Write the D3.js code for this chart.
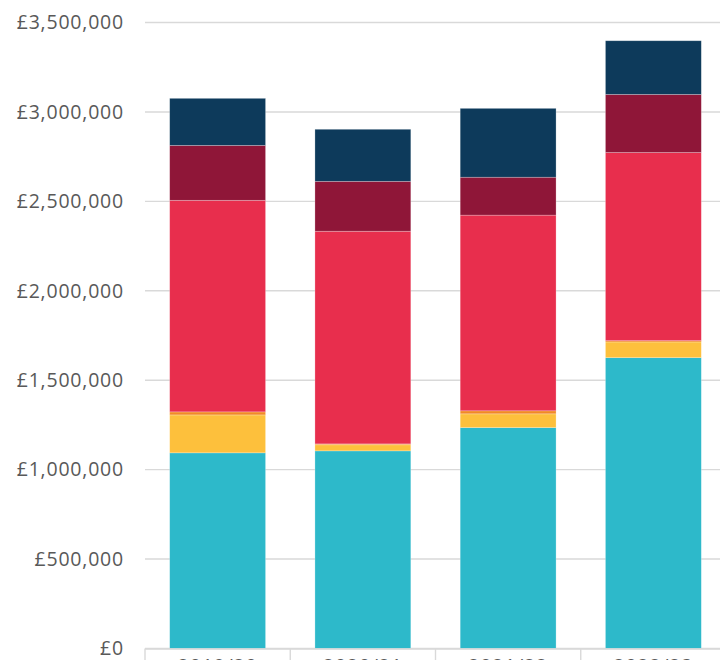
<!DOCTYPE html>
<html>
<head>
<meta charset="utf-8">
<script src="https://cdn.jsdelivr.net/npm/d3@7"></script>
<style>
  body { margin: 0; background: #fff; }
  svg { display: block; font-family: "Open Sans", "DejaVu Sans", sans-serif; }
</style>
</head>
<body>
<svg width="720" height="660"></svg>
<script>
// data
var years = ["2019/20", "2020/21", "2021/22", "2022/23"];
var keys = ["teal", "yellow", "orange", "red", "crimson", "navy"];
var teal    = [1094000, 1105000, 1235000, 1626000];
var yellow  = [ 212000,   34000,   77000,   88000];
var orange  = [  17000,    5000,   17000,    7000];
var red     = [1183000, 1189000, 1094000, 1052000];
var crimson = [ 307000,  279000,  212000,  325000];
var navy    = [ 263000,  291000,  385000,  300000];
var yTicks  = [0, 500000, 1000000, 1500000, 2000000, 2500000, 3000000, 3500000];

var colors = {
  teal: "#2db9ca",
  yellow: "#fdc03c",
  orange: "#f28a25",
  red: "#e82e4d",
  crimson: "#8f1638",
  navy: "#0d3a5b"
};

var series = { teal: teal, yellow: yellow, orange: orange, red: red, crimson: crimson, navy: navy };
var rows = years.map(function(yr, i) {
  var r = { year: yr };
  keys.forEach(function(k) { r[k] = series[k][i]; });
  return r;
});

var svg = d3.select("svg");
var plotLeft = 145, plotRight = 726, plotTop = 22.5, plotBottom = 648.5;

var x = d3.scaleBand()
  .domain(years)
  .range([plotLeft, plotRight])
  .paddingInner(0.34)
  .paddingOuter(0.17);

var y = d3.scaleLinear()
  .domain([0, 3500000])
  .range([plotBottom, plotTop]);

// gridlines
svg.append("g")
  .selectAll("line")
  .data(yTicks)
  .enter()
  .append("line")
   .attr("x1", plotLeft)
   .attr("x2", 720)
   .attr("y1", d => y(d))
   .attr("y2", d => y(d))
   .attr("stroke", "#d9d9d9")
   .attr("stroke-width", 1.4);

// y labels
var fmt = d3.format(",");
svg.append("g")
  .selectAll("text")
  .data(yTicks)
  .enter()
  .append("text")
   .attr("x", 124)
   .attr("y", d => y(d))
   .attr("dy", "0.35em")
   .attr("text-anchor", "end")
   .attr("fill", "#595959")
   .style("font-size", "19.5px")
   .style("letter-spacing", "0.8px")
   .text(d => "£" + fmt(d));

// stacked bars
var stack = d3.stack().keys(keys)(rows);
svg.append("g")
  .selectAll("g")
  .data(stack)
  .enter()
  .append("g")
   .attr("fill", d => colors[d.key])
  .selectAll("rect")
  .data(d => d)
  .enter()
  .append("rect")
   .attr("x", d => x(d.data.year))
   .attr("width", x.bandwidth())
   .attr("y", d => y(d[1]))
   .attr("height", d => y(d[0]) - y(d[1]))
   .attr("stroke", "#fff")
   .attr("stroke-width", 0.7)
   .attr("stroke-opacity", 0.35);

// x axis line and category boundary ticks
svg.append("line")
  .attr("x1", plotLeft)
  .attr("x2", 720)
  .attr("y1", plotBottom + 0.5)
  .attr("y2", plotBottom + 0.5)
  .attr("stroke", "#d9d9d9")
  .attr("stroke-width", 1.6);

svg.append("g")
  .selectAll("line")
  .data(years)
  .enter()
  .append("line")
   .attr("x1", d => x(d) - x.step() * x.paddingOuter())
   .attr("x2", d => x(d) - x.step() * x.paddingOuter())
   .attr("y1", plotBottom)
   .attr("y2", 660)
   .attr("stroke", "#d9d9d9")
   .attr("stroke-width", 1.4);

// x labels (cut off by the bottom edge, as in the source)
svg.append("g")
  .selectAll("text")
  .data(years)
  .enter()
  .append("text")
   .attr("x", d => x(d) + x.bandwidth() / 2)
   .attr("y", 673)
   .attr("text-anchor", "middle")
   .attr("fill", "#595959")
   .style("font-size", "19.5px")
   .style("letter-spacing", "0.8px")
   .text(d => d);
</script>
</body>
</html>
